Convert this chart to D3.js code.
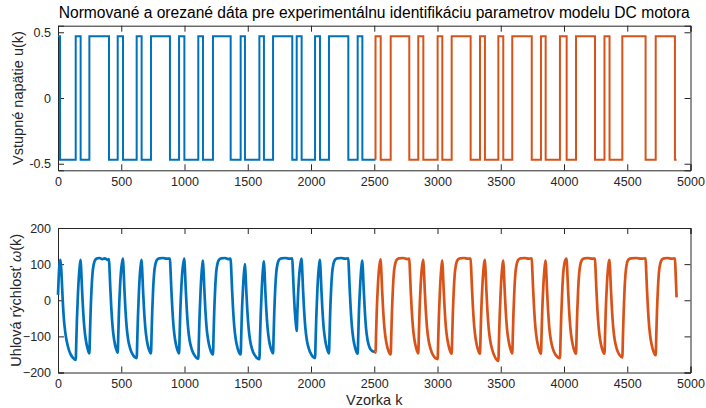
<!DOCTYPE html>
<html>
<head>
<meta charset="utf-8">
<script src="https://cdn.jsdelivr.net/npm/d3@7"></script>
<style>
  body { margin: 0; background: #fff; }
  svg { font-family: "Liberation Sans", Arial, sans-serif; }
  .axis text { fill: #262626; font-size: 12.5px; }
  .axis path, .axis line { stroke: #262626; }
</style>
</head>
<body>
<div id="container"><svg></svg></div>
<script>
let _width = 706, _height = 408;
let title = 'Normované a orezané dáta pre experimentálnu identifikáciu parametrov modelu DC motora';
let xLabel = 'Vzorka k';
let yLabelTop = 'Vstupné napätie u(k)';
let yLabelBottom = ['Uhlová rýchlosť ', 'ω', '(k)'];
let xTicks = [0,500,1000,1500,2000,2500,3000,3500,4000,4500,5000];
let uTicks = [-0.5, 0, 0.5];
let wTicks = [-200,-100,0,100,200];
let uHigh = 0.47, uLow = -0.47;

// input u(k): sample index where the level changes, and the new level (1 = high, 0 = low)
let uBlue = [[0,1],[16,0],[140,1],[179,0],[248,1],[403,0],[472,1],[514,0],[622,1],[661,0],
  [735,1],[885,0],[957,1],[999,0],[1109,1],[1146,0],[1225,1],[1365,0],[1444,1],[1478,0],
  [1592,1],[1628,0],[1700,1],[1852,0],[1887,1],[1926,0],[2032,1],[2071,0],[2142,1],[2295,0],
  [2369,1],[2406,0],[2510,0]];
let uOrange = [[2510,0],[2510,1],[2551,0],[2630,1],[2777,0],[2848,1],[2888,0],[3001,1],[3038,0],
  [3112,1],[3262,0],[3336,1],[3375,0],[3481,1],[3520,0],[3591,1],[3745,0],[3818,1],[3855,0],
  [3968,1],[4021,0],[4095,1],[4245,0],[4320,1],[4360,0],[4461,1],[4645,0],[4725,1],[4877,0],[4890,0]];

let wBlue = [[0,15],[5,60],[12,100],[20,112],[28,70],[36,10],[45,-45],[60,-95],[80,-130],[100,-150],[120,-160],[140,-165],
  [145,-110],[150,-50],[158,20],[166,70],[172,95],[179,112],
  [184,80],[190,30],[198,-25],[208,-75],[220,-110],[235,-135],[248,-147],
  [253,-90],[258,-30],[265,30],[273,75],[283,100],[295,112],[310,116],[330,117],[350,114],[370,116],[390,112],[403,114],
  [408,80],[414,30],[422,-25],[432,-75],[444,-110],[458,-133],[472,-145],
  [477,-90],[482,-30],[490,35],[498,80],[506,103],[514,115],
  [519,80],[525,30],[533,-25],[543,-75],[555,-110],[570,-133],[590,-150],[622,-160],
  [627,-105],[632,-45],[640,25],[648,75],[655,100],[661,112],
  [666,80],[672,30],[680,-25],[690,-75],[702,-110],[716,-133],[735,-147],
  [740,-90],[745,-30],[752,30],[760,75],[770,100],[782,112],[800,116],[830,117],[860,115],[885,115],
  [890,80],[896,30],[904,-25],[914,-75],[926,-110],[940,-133],[957,-147],
  [962,-90],[967,-30],[975,35],[983,80],[991,103],[999,115],
  [1004,80],[1010,30],[1018,-25],[1028,-75],[1040,-110],[1055,-133],[1075,-150],[1109,-162],
  [1114,-105],[1119,-45],[1127,25],[1135,75],[1141,98],[1146,110],
  [1151,78],[1157,28],[1165,-27],[1175,-77],[1187,-110],[1201,-133],[1225,-150],
  [1230,-92],[1235,-32],[1242,28],[1250,75],[1260,100],[1272,112],[1290,116],[1320,117],[1345,114],[1365,115],
  [1370,80],[1376,30],[1384,-25],[1394,-75],[1406,-110],[1420,-133],[1444,-150],
  [1449,-92],[1454,-32],[1462,30],[1470,75],[1478,100],
  [1483,70],[1489,22],[1497,-30],[1507,-78],[1519,-112],[1534,-135],[1555,-152],[1592,-163],
  [1597,-105],[1602,-45],[1610,25],[1618,75],[1624,98],[1628,108],
  [1633,76],[1639,26],[1647,-28],[1657,-78],[1669,-112],[1683,-134],[1700,-147],
  [1705,-90],[1710,-30],[1717,30],[1725,75],[1735,100],[1747,112],[1765,116],[1800,117],[1830,115],[1852,116],
  [1857,80],[1863,30],[1871,-25],[1879,-60],[1887,-85],
  [1892,-35],[1897,10],[1905,60],[1913,92],[1920,108],[1926,115],
  [1931,80],[1937,30],[1945,-25],[1955,-75],[1967,-110],[1982,-133],[2002,-150],[2032,-160],
  [2037,-105],[2042,-45],[2050,25],[2058,75],[2065,100],[2071,112],
  [2076,80],[2082,30],[2090,-25],[2100,-75],[2112,-110],[2126,-133],[2142,-147],
  [2147,-90],[2152,-30],[2159,30],[2167,75],[2177,100],[2189,112],[2207,116],[2240,117],[2270,115],[2295,116],
  [2300,80],[2306,30],[2314,-25],[2324,-75],[2336,-110],[2350,-133],[2369,-148],
  [2374,-92],[2379,-32],[2387,30],[2395,78],[2401,100],[2406,110],
  [2411,78],[2417,28],[2425,-27],[2435,-77],[2447,-110],[2462,-130],[2482,-140],[2506,-143]];
let wOrange = [[2506,-143],[2510,-145],[2515,-88],[2520,-28],[2528,35],[2536,80],[2544,103],[2551,113],
  [2556,80],[2562,30],[2570,-25],[2580,-75],[2592,-110],[2606,-133],[2630,-150],
  [2635,-92],[2640,-32],[2647,28],[2655,75],[2665,100],[2677,112],[2695,116],[2730,117],[2760,114],[2777,115],
  [2782,80],[2788,30],[2796,-25],[2806,-75],[2818,-110],[2832,-133],[2848,-147],
  [2853,-90],[2858,-30],[2866,35],[2874,80],[2882,103],[2888,112],
  [2893,80],[2899,30],[2907,-25],[2917,-75],[2929,-110],[2944,-133],[2965,-152],[3001,-163],
  [3006,-105],[3011,-45],[3019,25],[3027,75],[3033,98],[3038,110],
  [3043,78],[3049,28],[3057,-27],[3067,-77],[3079,-110],[3093,-133],[3112,-148],
  [3117,-90],[3122,-30],[3129,30],[3137,75],[3147,100],[3159,112],[3177,116],[3210,117],[3240,115],[3262,115],
  [3267,80],[3273,30],[3281,-25],[3291,-75],[3303,-110],[3317,-133],[3336,-148],
  [3341,-90],[3346,-30],[3354,35],[3362,80],[3369,103],[3375,112],
  [3380,80],[3386,30],[3394,-25],[3404,-75],[3416,-110],[3431,-135],[3451,-155],[3481,-168],
  [3486,-110],[3491,-50],[3499,20],[3507,72],[3514,98],[3520,110],
  [3525,78],[3531,28],[3539,-27],[3549,-77],[3561,-110],[3575,-133],[3591,-147],
  [3596,-90],[3601,-30],[3608,30],[3616,75],[3626,100],[3638,112],[3656,116],[3690,117],[3720,115],[3745,116],
  [3750,80],[3756,30],[3764,-25],[3774,-75],[3786,-110],[3800,-133],[3818,-148],
  [3823,-90],[3828,-30],[3836,35],[3844,80],[3850,100],[3855,110],
  [3860,78],[3866,28],[3874,-27],[3884,-77],[3896,-110],[3911,-133],[3932,-150],[3968,-160],
  [3973,-105],[3978,-45],[3986,25],[3994,75],[4004,103],[4013,113],[4021,115],
  [4026,80],[4032,30],[4040,-25],[4050,-75],[4062,-110],[4076,-133],[4095,-148],
  [4100,-90],[4105,-30],[4112,30],[4120,75],[4130,100],[4142,112],[4160,116],[4190,117],[4220,115],[4245,115],
  [4250,80],[4256,30],[4264,-25],[4274,-75],[4286,-110],[4300,-133],[4320,-148],
  [4325,-90],[4330,-30],[4338,35],[4346,80],[4353,103],[4360,112],
  [4365,80],[4371,30],[4379,-25],[4389,-75],[4401,-110],[4416,-133],[4436,-150],[4461,-158],
  [4466,-100],[4471,-40],[4478,25],[4486,72],[4496,100],[4508,112],[4530,116],[4570,117],[4610,115],[4645,116],
  [4650,80],[4656,30],[4664,-25],[4674,-75],[4686,-110],[4700,-133],[4725,-152],
  [4730,-92],[4735,-32],[4742,28],[4750,75],[4760,100],[4772,112],[4790,116],[4820,117],[4850,115],[4877,116],
  [4882,80],[4888,25],[4890,8]];

let colors = ['#0072BD', '#D95319'];

let svg = d3.select('#container').select('svg')
    .attr('width', _width)
    .attr('height', _height);

// axes boxes (both subplots the same height)
let boxTop = {left: 58, right: 690.5, top: 25.7, bottom: 170.3};
let boxBot = {left: 58, right: 690.5, top: 228, bottom: 372.5};

let xTop = d3.scaleLinear().domain([0, 5000]).range([boxTop.left, boxTop.right]);
let xBot = d3.scaleLinear().domain([0, 5000]).range([boxBot.left, boxBot.right]);
let yTop = d3.scaleLinear().domain([-0.55, 0.55]).range([boxTop.bottom, boxTop.top]);
let yBot = d3.scaleLinear().domain([-200, 200]).range([boxBot.bottom, boxBot.top]);

function drawAxes(box, x, y, yTicks, yFmt) {
    let tl = 6;
    svg.append('g').attr('class', 'axis')
        .attr('transform', `translate(0,${box.bottom})`)
        .call(d3.axisBottom(x).tickValues(xTicks).tickSize(-tl).tickPadding(7).tickFormat(d3.format('d')));
    svg.append('g').attr('class', 'axis')
        .attr('transform', `translate(0,${box.top})`)
        .call(d3.axisTop(x).tickValues(xTicks).tickSize(-tl).tickFormat(''));
    svg.append('g').attr('class', 'axis')
        .attr('transform', `translate(${box.left},0)`)
        .call(d3.axisLeft(y).tickValues(yTicks).tickSize(-tl).tickPadding(7).tickFormat(yFmt));
    svg.append('g').attr('class', 'axis')
        .attr('transform', `translate(${box.right},0)`)
        .call(d3.axisRight(y).tickValues(yTicks).tickSize(-tl).tickFormat(''));
    svg.selectAll('.axis .domain').attr('stroke-width', 1);
}

drawAxes(boxTop, xTop, yTop, uTicks, d => d === 0 ? '0' : String(d));
drawAxes(boxBot, xBot, yBot, wTicks, d3.format('d'));

// u(k)
let uLine = d3.line()
    .x(d => xTop(d[0]))
    .y(d => yTop(d[1] ? uHigh : uLow))
    .curve(d3.curveStepAfter);
[uBlue, uOrange].forEach((s, i) => {
    svg.append('path')
        .datum(s)
        .attr('d', uLine)
        .attr('fill', 'none')
        .attr('stroke', colors[i])
        .attr('stroke-width', 2);
});

// omega(k)
let wLine = d3.line()
    .x(d => xBot(d[0]))
    .y(d => yBot(d[1]))
    .curve(d3.curveMonotoneX);
[wBlue, wOrange].forEach((s, i) => {
    svg.append('path')
        .datum(s)
        .attr('d', wLine)
        .attr('fill', 'none')
        .attr('stroke', colors[i])
        .attr('stroke-width', 2.7)
        .attr('stroke-linejoin', 'round');
});

// texts
svg.append('text')
    .attr('x', (boxTop.left + boxTop.right) / 2)
    .attr('y', 18)
    .attr('text-anchor', 'middle')
    .attr('font-size', 15.6)
    .attr('fill', '#000')
    .text(title);
svg.append('text')
    .attr('x', (boxBot.left + boxBot.right) / 2)
    .attr('y', 405)
    .attr('text-anchor', 'middle')
    .attr('font-size', 14.5)
    .attr('fill', '#262626')
    .text(xLabel);
svg.append('text')
    .attr('transform', `translate(23,${(boxTop.top + boxTop.bottom) / 2}) rotate(-90)`)
    .attr('text-anchor', 'middle')
    .attr('font-size', 14.5)
    .attr('fill', '#262626')
    .text(yLabelTop);
svg.append('text')
    .attr('transform', `translate(21,${(boxBot.top + boxBot.bottom) / 2}) rotate(-90)`)
    .attr('text-anchor', 'middle')
    .attr('font-size', 14.5)
    .attr('fill', '#262626')
    .selectAll('tspan')
    .data(yLabelBottom)
    .join('tspan')
    .attr('font-style', (d, i) => i === 1 ? 'italic' : null)
    .text(d => d);
</script>
</body>
</html>
